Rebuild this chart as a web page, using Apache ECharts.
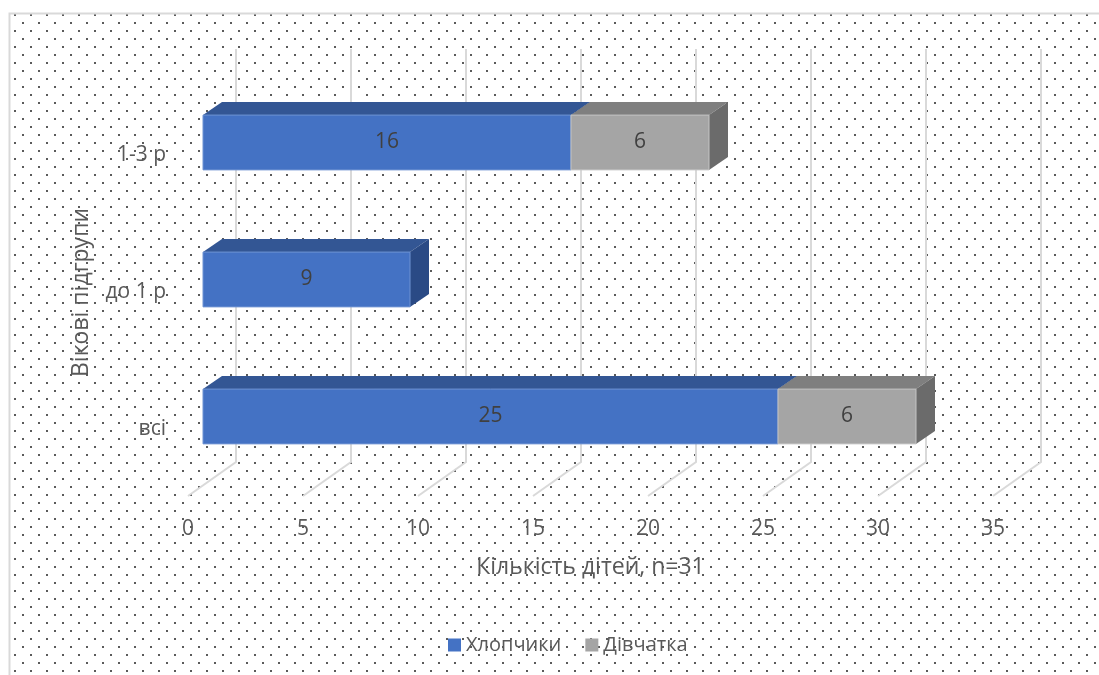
<!DOCTYPE html>
<html><head><meta charset="utf-8">
<script src="https://cdn.jsdelivr.net/npm/echarts@6/dist/echarts.min.js"></script>
<style>html,body{margin:0;padding:0;background:#fff}#c{width:1099px;height:675px}</style>
</head><body><div id="c"></div>
<script>
const categories = ['всі', 'до 1 р', '1-3 р'];
const boys = [25, 9, 16];
const girls = [6, null, 6];
const xTicks = [0, 5, 10, 15, 20, 25, 30, 35];
const seriesNames = ['Хлопчики', 'Дівчатка'];
const xTitle = 'Кількість дітей, n=31';
const yTitle = 'Вікові підгрупи';

const FONT = '"Open Sans", sans-serif';
const TXT = '#595959';

// dotted pattern tile
const tile = document.createElement('canvas');
tile.width = 16; tile.height = 16;
const tctx = tile.getContext('2d');
tctx.fillStyle = '#5a5a5a';
tctx.fillRect(14, 14, 2, 2);
tctx.fillRect(6, 6, 2, 2);

const faces = [
  {front: '#4472C4', top: '#335694', side: '#2A4A85', edge: '#6f93d3'},
  {front: '#A5A5A5', top: '#7F7F7F', side: '#6B6B6B', edge: '#c4c4c4'}
];

function makeBarRender(face) {
  return function (params, api) {
    const cat = api.value(0), s = api.value(1), e = api.value(2), v = api.value(3);
    if (isNaN(v) || !v) return;
    const p0 = api.coord([s, cat]), p1 = api.coord([e, cat]);
    const band = api.size([0, 1])[1];
    const h = band * 0.4;
    const yc = p0[1] - band * 0.095;
    const yt = yc - h / 2, yb = yc + h / 2;
    const dx = 19, dy = 13;
    const x0 = p0[0], x1 = p1[0];
    return {type: 'group', children: [
      {type: 'polygon', shape: {points: [[x0, yt], [x0 + dx, yt - dy], [x1 + dx, yt - dy], [x1, yt]]}, style: {fill: face.top}},
      {type: 'polygon', shape: {points: [[x1, yt], [x1 + dx, yt - dy], [x1 + dx, yb - dy], [x1, yb]]}, style: {fill: face.side}},
      {type: 'rect', shape: {x: x0, y: yt, width: x1 - x0, height: h}, style: {fill: face.front, stroke: face.edge, lineWidth: 1}},
      {type: 'text', x: (x0 + x1) / 2, y: yc, style: {text: String(v), fill: '#404040', font: '21px ' + FONT, align: 'center', verticalAlign: 'middle'}}
    ]};
  };
}

const boysData = categories.map((c, i) => [i, 0, boys[i] || 0, boys[i]]);
const girlsData = categories.map((c, i) => [i, boys[i] || 0, (boys[i] || 0) + (girls[i] || 0), girls[i]]);

const chart = echarts.init(document.getElementById('c'));
chart.setOption({
  animation: false,
  backgroundColor: '#fff',
  textStyle: {fontFamily: FONT},
  graphic: [{
    type: 'rect', z: -10, silent: true,
    shape: {x: 9.5, y: 13.5, width: 1110, height: 700},
    style: {fill: {image: tile, repeat: 'repeat'}, stroke: '#d9d9d9', lineWidth: 2}
  }],
  grid: [
    {left: 203, right: 91, top: 87, bottom: 177},
    {left: 188, right: 106, top: 87, bottom: 170}
  ],
  xAxis: [
    {gridIndex: 0, type: 'value', min: 0, max: 35, interval: 5, show: false},
    {gridIndex: 1, type: 'value', min: 0, max: 35, interval: 5,
     axisLine: {show: false}, axisTick: {show: false}, splitLine: {show: false},
     axisLabel: {color: TXT, fontSize: 21, margin: 14, fontFamily: FONT},
     name: xTitle, nameLocation: 'middle', nameGap: 51,
     nameTextStyle: {color: TXT, fontSize: 23, fontFamily: FONT}}
  ],
  yAxis: [
    {gridIndex: 0, type: 'category', data: categories,
     axisLine: {show: false}, axisTick: {show: false}, splitLine: {show: false},
     axisLabel: {color: TXT, fontSize: 21, margin: 37, fontFamily: FONT},
     name: yTitle, nameLocation: 'middle', nameGap: 110, nameRotate: 90,
     nameTextStyle: {color: TXT, fontSize: 23, fontFamily: FONT}},
    {gridIndex: 1, type: 'value', min: 0, max: 1, show: false}
  ],
  legend: {
    left: 443, top: 630, itemWidth: 13, itemHeight: 13, itemGap: 24, itemTextGap: 6,
    icon: 'rect',
    textStyle: {color: TXT, fontSize: 20, fontFamily: FONT},
    data: seriesNames
  },
  series: [
    {type: 'custom', xAxisIndex: 1, yAxisIndex: 1, silent: true, z: 1,
     data: xTicks.map(v => [v, 0]), encode: {x: 0, y: 1},
     renderItem: function (params, api) {
       const x = api.coord([api.value(0), 0])[0];
       return {type: 'polyline', shape: {points: [[x + 48, 49], [x + 48, 462], [x, 496]]},
               style: {stroke: '#d9d9d9', lineWidth: 2, fill: null}};
     }},
    {type: 'custom', name: seriesNames[0], xAxisIndex: 0, yAxisIndex: 0, z: 2,
     itemStyle: {color: faces[0].front},
     data: boysData, encode: {x: [1, 2], y: 0},
     renderItem: makeBarRender(faces[0])},
    {type: 'custom', name: seriesNames[1], xAxisIndex: 0, yAxisIndex: 0, z: 3,
     itemStyle: {color: faces[1].front},
     data: girlsData, encode: {x: [1, 2], y: 0},
     renderItem: makeBarRender(faces[1])}
  ]
});
</script>
</body></html>
